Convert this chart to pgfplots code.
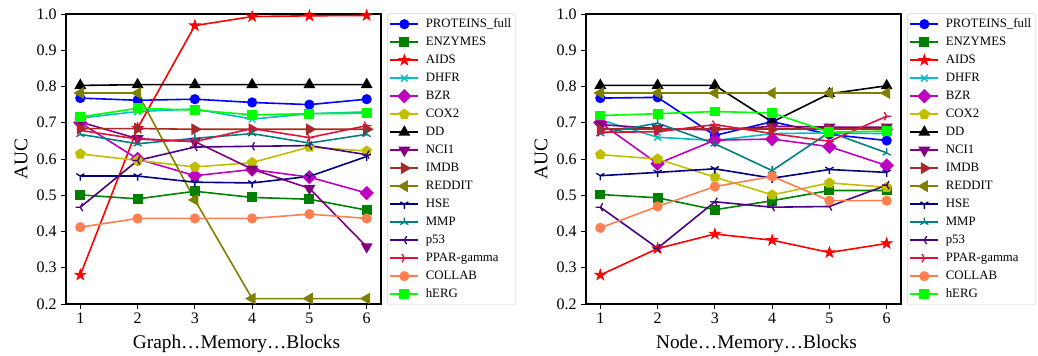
\documentclass[border=0pt]{standalone}
\usepackage{pgfplots}
\pgfplotsset{compat=1.18}
\usepackage{pgfplotstable}
\usepackage{fontspec}
\setmainfont{Liberation Serif}
\usetikzlibrary{plotmarks}

\definecolor{cblue}{rgb}{0,0,1}
\definecolor{cgreen}{rgb}{0,0.5,0}
\definecolor{cred}{rgb}{1,0,0}
\definecolor{ccyan}{rgb}{0,0.75,0.75}
\definecolor{cmag}{rgb}{0.75,0,0.75}
\definecolor{cyel}{rgb}{0.75,0.75,0}
\definecolor{cblack}{rgb}{0,0,0}
\definecolor{cpurple}{rgb}{0.5,0,0.5}
\definecolor{cbrown}{rgb}{0.647,0.165,0.165}
\definecolor{colive}{rgb}{0.5,0.5,0}
\definecolor{cnavy}{rgb}{0,0,0.5}
\definecolor{cteal}{rgb}{0,0.5,0.5}
\definecolor{cindigo}{rgb}{0.294,0,0.51}
\definecolor{ccrimson}{rgb}{0.863,0.078,0.235}
\definecolor{ccoral}{rgb}{1,0.498,0.314}
\definecolor{clime}{rgb}{0,1,0}

\pgfdeclareplotmark{fstar}{%
  \pgfpathmoveto{\pgfpointpolar{90}{\pgfplotmarksize}}%
  \pgfpathlineto{\pgfpointpolar{126}{0.382\pgfplotmarksize}}%
  \pgfpathlineto{\pgfpointpolar{162}{\pgfplotmarksize}}%
  \pgfpathlineto{\pgfpointpolar{198}{0.382\pgfplotmarksize}}%
  \pgfpathlineto{\pgfpointpolar{234}{\pgfplotmarksize}}%
  \pgfpathlineto{\pgfpointpolar{270}{0.382\pgfplotmarksize}}%
  \pgfpathlineto{\pgfpointpolar{306}{\pgfplotmarksize}}%
  \pgfpathlineto{\pgfpointpolar{342}{0.382\pgfplotmarksize}}%
  \pgfpathlineto{\pgfpointpolar{18}{\pgfplotmarksize}}%
  \pgfpathlineto{\pgfpointpolar{54}{0.382\pgfplotmarksize}}%
  \pgfpathclose\pgfusepathqfillstroke}

\pgfplotstableread{
x PROT ENZ AIDS DHFR BZR COX DD NCI IMDB RED HSE MMP P53 PPAR COL HERG
1 0.768 0.501 0.280 0.713 0.700 0.614 0.803 0.702 0.684 0.782 0.553 0.668 0.467 0.679 0.412 0.716
2 0.762 0.490 0.685 0.731 0.600 0.596 0.805 0.656 0.684 0.782 0.553 0.642 0.596 0.655 0.436 0.740
3 0.765 0.511 0.968 0.738 0.554 0.578 0.805 0.648 0.682 0.487 0.536 0.657 0.633 0.648 0.436 0.735
4 0.756 0.494 0.993 0.710 0.571 0.590 0.805 0.572 0.682 0.215 0.534 0.670 0.635 0.684 0.436 0.722
5 0.750 0.489 0.995 0.725 0.550 0.633 0.805 0.519 0.682 0.215 0.552 0.644 0.637 0.659 0.448 0.725
6 0.765 0.459 0.996 0.730 0.506 0.622 0.805 0.358 0.682 0.215 0.607 0.668 0.612 0.692 0.436 0.726
}\graphtab

\pgfplotstableread{
x PROT ENZ AIDS DHFR BZR COX DD NCI IMDB RED HSE MMP P53 PPAR COL HERG
1 0.768 0.502 0.280 0.708 0.700 0.612 0.803 0.695 0.682 0.782 0.554 0.670 0.467 0.674 0.410 0.720
2 0.770 0.493 0.353 0.660 0.587 0.600 0.803 0.684 0.682 0.782 0.563 0.699 0.354 0.675 0.469 0.725
3 0.665 0.460 0.393 0.651 0.652 0.550 0.803 0.680 0.682 0.782 0.573 0.642 0.482 0.695 0.524 0.731
4 0.703 0.485 0.376 0.670 0.655 0.501 0.702 0.690 0.682 0.782 0.547 0.568 0.467 0.670 0.552 0.727
5 0.668 0.513 0.342 0.672 0.634 0.534 0.780 0.688 0.682 0.782 0.571 0.674 0.469 0.649 0.485 0.674
6 0.651 0.513 0.367 0.670 0.582 0.522 0.802 0.688 0.682 0.782 0.563 0.617 0.528 0.718 0.485 0.677
}\nodetab

\pgfplotsset{
  sPROT/.style={color=cblue, mark=*, mark size=3.2pt},
  sENZ/.style={color=cgreen, mark=square*, mark size=3.1pt},
  sAIDS/.style={color=cred, mark=fstar, mark size=4.2pt, mark options={line width=0.6pt}},
  sDHFR/.style={color=ccyan, mark=x, mark size=3.5pt, mark options={line width=1pt}},
  sBZR/.style={color=cmag, mark=square*, mark size=3.2pt, mark options={rotate=45}},
  sCOX/.style={color=cyel, mark=pentagon*, mark size=3.5pt},
  sDD/.style={color=cblack, mark=triangle*, mark size=4pt},
  sNCI/.style={color=cpurple, mark=triangle*, mark size=4pt, mark options={rotate=180}},
  sIMDB/.style={color=cbrown, mark=triangle*, mark size=4pt, mark options={rotate=-90}},
  sRED/.style={color=colive, mark=triangle*, mark size=4pt, mark options={rotate=90}},
  sHSE/.style={color=cnavy, mark=Mercedes star flipped, mark size=3.5pt, mark options={line width=1pt}},
  sMMP/.style={color=cteal, mark=Mercedes star, mark size=3.5pt, mark options={line width=1pt}},
  sP53/.style={color=cindigo, mark=Mercedes star, mark size=3.5pt, mark options={rotate=90,line width=1pt}},
  sPPAR/.style={color=ccrimson, mark=Mercedes star, mark size=3.5pt, mark options={rotate=-90,line width=1pt}},
  sCOL/.style={color=ccoral, mark=*, mark size=3.2pt},
  sHERG/.style={color=clime, mark=square*, mark size=3.1pt},
  myaxis/.style={
    scale only axis, width=236.25pt, height=217.5pt,
    xmin=0.75, xmax=6.25, ymin=0.2, ymax=1.0,
    xtick={1,2,3,4,5,6},
    ytick={0.2,0.3,0.4,0.5,0.6,0.7,0.8,0.9,1.0},
    yticklabel style={/pgf/number format/.cd, fixed, fixed zerofill, precision=1},
    /pgf/number format/assume math mode=true,
    tick align=outside, tick pos=left,
    major tick length=3.5pt,
    every tick/.style={black, line width=0.7pt},
    tick label style={font=\fontsize{12}{14}\selectfont},
    label style={font=\fontsize{14.5}{17}\selectfont},
    xlabel style={xshift=9.75pt, yshift=-1.5pt},
    ylabel={AUC},
    axis line style={line width=0.8pt},
    every axis plot/.append style={line width=1.2pt},
    legend style={at={(1.02,1.0025)}, anchor=north west,
      draw=black!18, rounded corners=2pt, fill=white,
      font=\fontsize{9.6}{11}\selectfont,
      inner xsep=1.5pt, inner ysep=1.5pt, row sep=0.5pt,
      /tikz/every odd column/.append style={column sep=3pt},
      nodes={inner sep=2pt, text height=7pt, text depth=2pt}},
    legend cell align=left,
    legend image code/.code={\draw[mark repeat=2,mark phase=2] plot coordinates {(0pt,0pt)(10.5pt,0pt)(21pt,0pt)};},
  }
}

\newcommand{\allplots}[1]{%
  \addplot[sPROT] table[x=x,y=PROT] {#1}; \addlegendentry{PROTEINS\_full\hspace{3pt}}
  \addplot[sENZ] table[x=x,y=ENZ] {#1}; \addlegendentry{ENZYMES}
  \addplot[sAIDS] table[x=x,y=AIDS] {#1}; \addlegendentry{AIDS}
  \addplot[sDHFR] table[x=x,y=DHFR] {#1}; \addlegendentry{DHFR}
  \addplot[sBZR] table[x=x,y=BZR] {#1}; \addlegendentry{BZR}
  \addplot[sCOX] table[x=x,y=COX] {#1}; \addlegendentry{COX2}
  \addplot[sDD] table[x=x,y=DD] {#1}; \addlegendentry{DD}
  \addplot[sNCI] table[x=x,y=NCI] {#1}; \addlegendentry{NCI1}
  \addplot[sIMDB] table[x=x,y=IMDB] {#1}; \addlegendentry{IMDB}
  \addplot[sRED] table[x=x,y=RED] {#1}; \addlegendentry{REDDIT}
  \addplot[sHSE] table[x=x,y=HSE] {#1}; \addlegendentry{HSE}
  \addplot[sMMP] table[x=x,y=MMP] {#1}; \addlegendentry{MMP}
  \addplot[sP53] table[x=x,y=P53] {#1}; \addlegendentry{p53}
  \addplot[sPPAR] table[x=x,y=PPAR] {#1}; \addlegendentry{PPAR-gamma}
  \addplot[sCOL] table[x=x,y=COL] {#1}; \addlegendentry{COLLAB}
  \addplot[sHERG] table[x=x,y=HERG] {#1}; \addlegendentry{hERG}
}

\begin{document}
\begin{tikzpicture}
\path[use as bounding box] (0,0) rectangle (778.5pt,267pt);
\begin{axis}[myaxis, at={(49.5pt,39pt)}, anchor=south west, xlabel={Graph…Memory…Blocks}]
\allplots{\graphtab}
\end{axis}
\begin{axis}[myaxis, at={(439.5pt,39pt)}, anchor=south west, xlabel={Node…Memory…Blocks}]
\allplots{\nodetab}
\end{axis}
\end{tikzpicture}
\end{document}
